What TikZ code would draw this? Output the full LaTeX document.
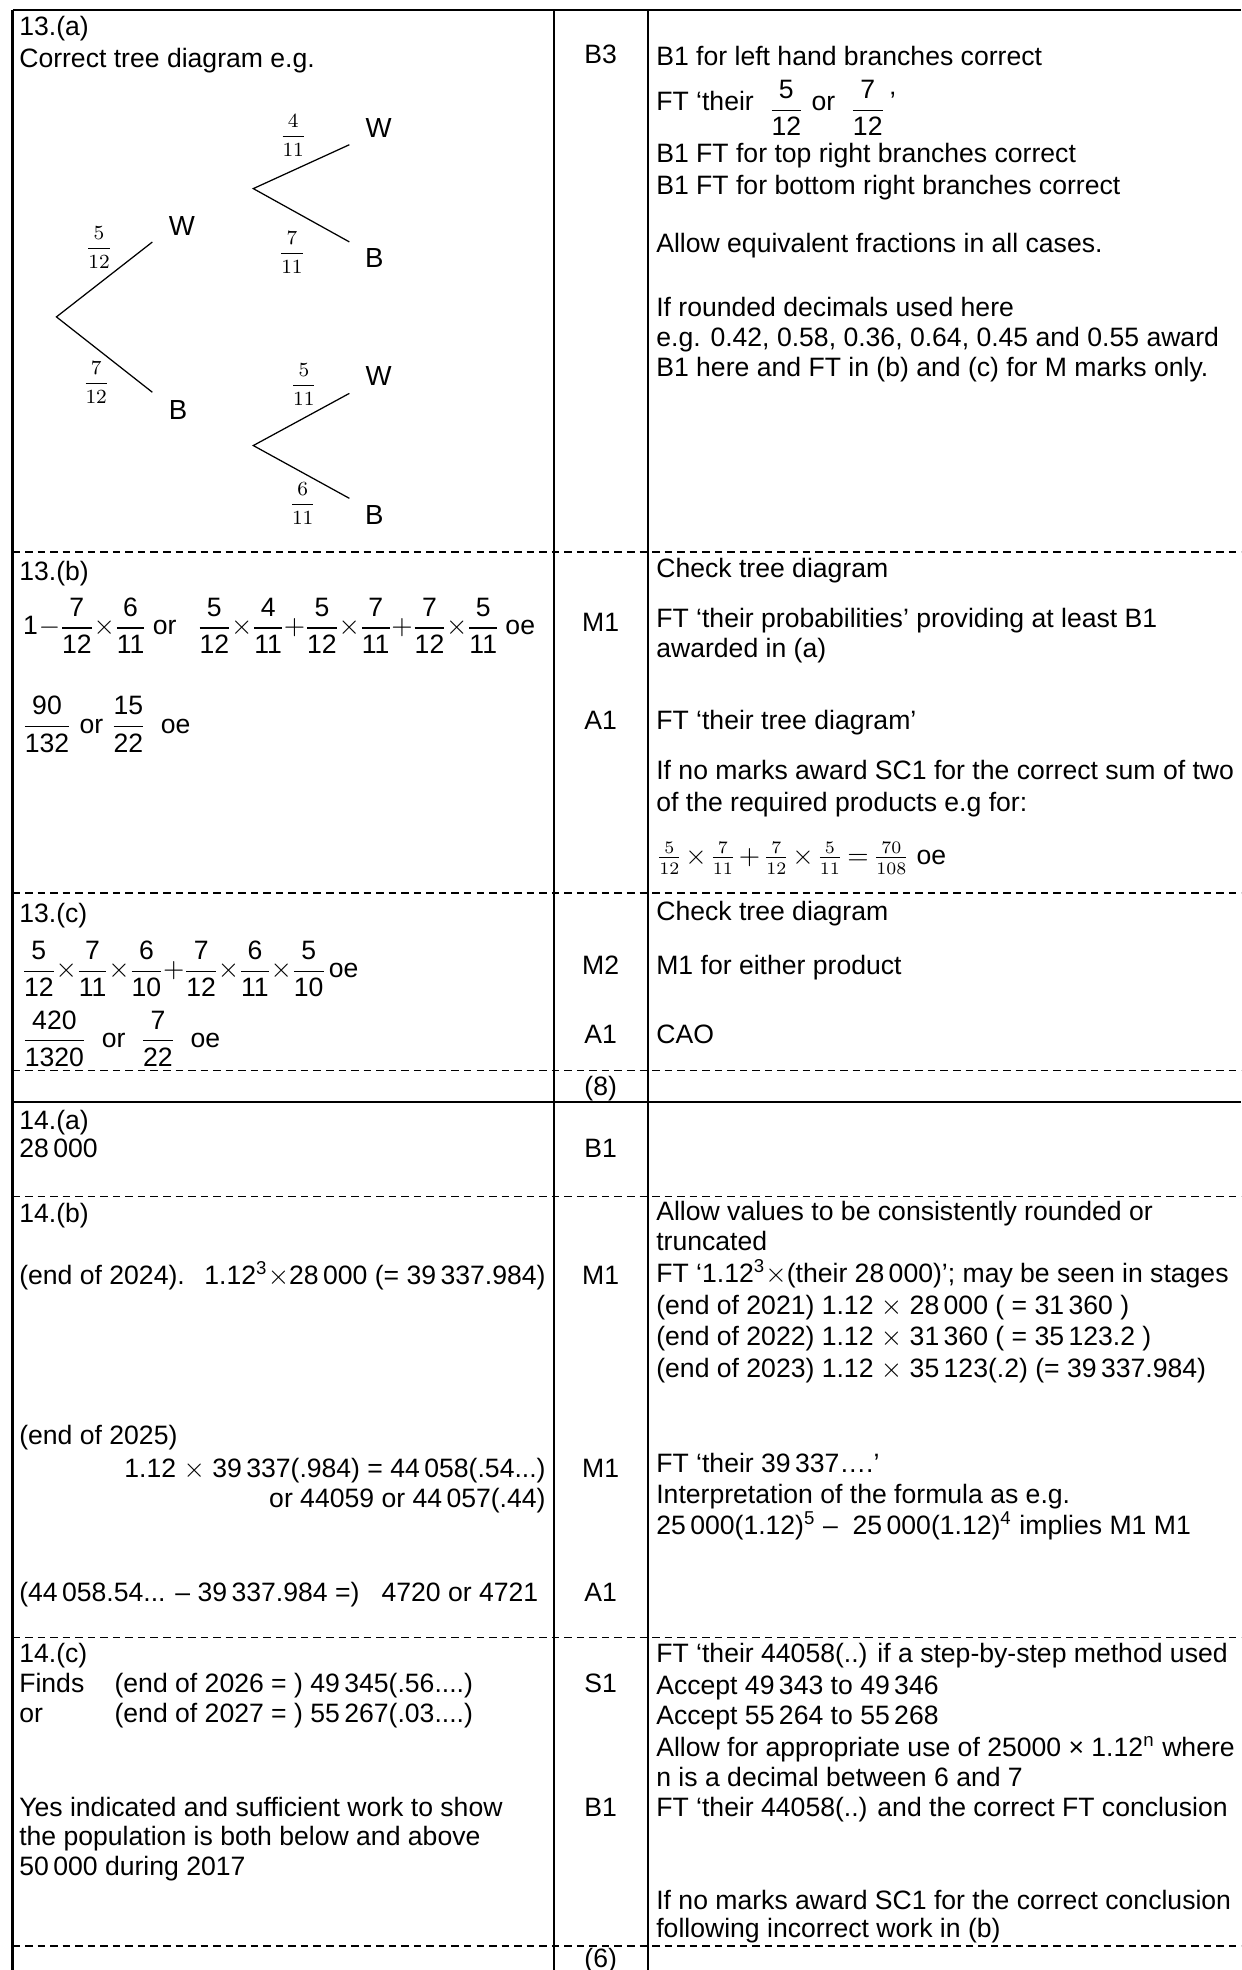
\documentclass[tikz,border=0pt]{standalone}
\usepackage{amsmath}
\usepackage[no-math]{fontspec}
\setmainfont{Liberation Sans}

\newcommand\fr[2]{\dfrac{\mbox{#1}}{\mbox{#2}}}
\newcommand\bodyfont{\fontsize{10.6}{12.4}\selectfont}
\newcommand\tightmath{\medmuskip=0.6mu\nulldelimiterspace=0.4pt}

\tikzset{
  txt/.style={anchor=base west, inner sep=0pt, font=\bodyfont},
  rtxt/.style={anchor=base east, inner sep=0pt, font=\bodyfont},
  frm/.style={anchor=west, inner sep=0pt, font=\bodyfont},
  markcell/.style={anchor=base, inner sep=0pt, font=\bodyfont},
  prob/.style={inner sep=0pt, font=\fontsize{8.5}{10}\selectfont},
  leaf/.style={inner sep=0pt, font=\fontsize{11}{13}\selectfont},
  branch/.style={line width=0.5pt},
  tabrule/.style={line width=0.9pt},
  dline/.style={line width=0.6pt, dash pattern=on 3pt off 2pt},
}

\begin{document}
\begin{tikzpicture}[x=0.5pt,y=-0.5pt]
  \useasboundingbox (0,0) rectangle (990,1571);

  % table rules
  \draw[tabrule] (10,8) -- (990,8);
  \draw[tabrule] (10,8) -- (10,1571);
  \draw[tabrule] (442,8) -- (442,1571);
  \draw[tabrule] (517,8) -- (517,1571);
  \draw[tabrule] (10,879) -- (990,879);
  \foreach \yy in {440,712,853.5,954,1306,1552}
    \draw[dline] (10,\yy) -- (990,\yy);

  % 13 (a)
  \node[txt] (qa) at (15,28) {13.(a)};
  \node[txt] (qatxt) at (15,54) {Correct tree diagram e.g.};
  \node[markcell] (mqa) at (479,51) {B3};

  % tree diagram
  \coordinate (r) at (45,252.7);
  \coordinate (rW) at (121.5,193);
  \coordinate (rB) at (121.5,312.8);
  \coordinate (w) at (202,150.4);
  \coordinate (wW) at (278.6,115.4);
  \coordinate (wB) at (278.6,192.9);
  \coordinate (b) at (202,355.3);
  \coordinate (bW) at (278.6,313.7);
  \coordinate (bB) at (278.6,397.4);

  \draw[branch] (rW) -- (r) -- (rB);
  \draw[branch] (wW) -- (w) -- (wB);
  \draw[branch] (bW) -- (b) -- (bB);

  \node[leaf] (lW) at (145,180) {W};
  \node[leaf] (lB) at (142,327) {B};
  \node[leaf] (lWW) at (302,101.7) {W};
  \node[leaf] (lWB) at (298.5,206) {B};
  \node[leaf] (lBW) at (302,299.7) {W};
  \node[leaf] (lBB) at (298.5,410.8) {B};

  \node[prob] (pW) at (79,197) {$\dfrac{5}{12}$};
  \node[prob] (pB) at (76.7,304.7) {$\dfrac{7}{12}$};
  \node[prob] (pWW) at (233.8,108.3) {$\dfrac{4}{11}$};
  \node[prob] (pWB) at (232.8,201.6) {$\dfrac{7}{11}$};
  \node[prob] (pBW) at (242.3,307) {$\dfrac{5}{11}$};
  \node[prob] (pBB) at (241.4,401.7) {$\dfrac{6}{11}$};

  \node[txt] (ca1) at (523,52) {B1 for left hand branches correct};
  \node[txt] (ca2) at (523,88) {FT `their \ \raisebox{-2.65pt}{$\fr{5}{12}$} or \ \raisebox{-2.65pt}{$\fr{7}{12}$}\,'};
  \node[txt] (ca3) at (523,129.5) {B1 FT for top right branches correct};
  \node[txt] (ca4) at (523,155) {B1 FT for bottom right branches correct};
  \node[txt] (ca5) at (523,201) {Allow equivalent fractions in all cases.};
  \node[txt] (ca6) at (523,252) {If rounded decimals used here};
  \node[txt] (ca7) at (523,276) {e.g. 0.42, 0.58, 0.36, 0.64, 0.45 and 0.55 award};
  \node[txt] (ca8) at (523,300) {B1 here and FT in (b) and (c) for M marks only.};

  % 13 (b)
  \node[txt] (qb) at (15,462.8) {13.(b)};
  \node[frm] (qb1) at (18,499) {\tightmath$\displaystyle \mbox{1}-\fr{7}{12}\times\fr{6}{11}\mbox{ or \ \ }\fr{5}{12}\times\fr{4}{11}+\fr{5}{12}\times\fr{7}{11}+\fr{7}{12}\times\fr{5}{11}\mbox{ oe}$};
  \node[frm] (qb2) at (17,577.5) {$\displaystyle \fr{90}{132}\mbox{ or }\fr{15}{22}\mbox{ \ oe}$};
  \node[markcell] (mqb1) at (479,503.3) {M1};
  \node[markcell] (mqb2) at (479,581.7) {A1};

  \node[txt] (cb1) at (523,460.6) {Check tree diagram};
  \node[txt] (cb2) at (523,500.5) {FT `their probabilities' providing at least B1};
  \node[txt] (cb3) at (523,524.7) {awarded in (a)};
  \node[txt] (cb4) at (523,581.7) {FT `their tree diagram'};
  \node[txt] (cb5) at (523,621.6) {If no marks award SC1 for the correct sum of two};
  \node[txt] (cb6) at (523,647.2) {of the required products e.g for:};
  \node[frm] (cb7) at (523,684.4) {\medmuskip=2mu\thickmuskip=3mu$\frac{5}{12}\times\frac{7}{11}+\frac{7}{12}\times\frac{5}{11}=\frac{70}{108}$ oe};

  % 13 (c)
  \node[txt] (qc) at (15,735.5) {13.(c)};
  \node[frm] (qc1) at (18,772.7) {\tightmath$\displaystyle \fr{5}{12}\times\fr{7}{11}\times\fr{6}{10}+\fr{7}{12}\times\fr{6}{11}\times\fr{5}{10}\mbox{\,oe}$};
  \node[frm] (qc2) at (17,828.2) {$\displaystyle \fr{420}{1320}\mbox{ \ or \ }\fr{7}{22}\mbox{ \ oe}$};
  \node[markcell] (mqc1) at (479,776.8) {M2};
  \node[markcell] (mqc2) at (479,832.4) {A1};
  \node[markcell] (tot13) at (479,873.7) {(8)};

  \node[txt] (cc1) at (523,734) {Check tree diagram};
  \node[txt] (cc2) at (523,776.8) {M1 for either product};
  \node[txt] (cc3) at (523,832.4) {CAO};

  % 14 (a)
  \node[txt] (qd) at (15,900.5) {14.(a)};
  \node[txt] (qd1) at (15,923) {28\,000};
  \node[markcell] (mqd) at (479,923) {B1};

  % 14 (b)
  \node[txt] (qe) at (15,975) {14.(b)};
  \node[txt] (qe1) at (15,1024) {(end of 2024).};
  \node[rtxt] (qe2) at (435.5,1024) {1.12\textsuperscript{3}$\times$28\,000 (= 39\,337.984)};
  \node[txt] (qe3) at (15,1152) {(end of 2025)};
  \node[rtxt] (qe4) at (435.5,1178.5) {1.12 $\times$ 39\,337(.984) = 44\,058(.54...)};
  \node[rtxt] (qe5) at (435.5,1202.5) {or 44059 or 44\,057(.44)};
  \node[txt] (qe6) at (15,1276.8) {(44\,058.54... -- 39\,337.984 =) \ \ 4720 or 4721};
  \node[markcell] (mqe1) at (479,1024) {M1};
  \node[markcell] (mqe2) at (479,1178.5) {M1};
  \node[markcell] (mqe3) at (479,1276.8) {A1};

  \node[txt] (ce1) at (523,973.6) {Allow values to be consistently rounded or};
  \node[txt] (ce2) at (523,997.5) {truncated};
  \node[txt] (ce3) at (523,1022.7) {FT `1.12\textsuperscript{3}$\times$(their 28\,000)'; may be seen in stages};
  \node[txt] (ce4) at (523,1048) {(end of 2021) 1.12 $\times$ 28\,000 ( = 31\,360 )};
  \node[txt] (ce5) at (523,1073) {(end of 2022) 1.12 $\times$ 31\,360 ( = 35\,123.2 )};
  \node[txt] (ce6) at (523,1098.3) {(end of 2023) 1.12 $\times$ 35\,123(.2) (= 39\,337.984)};
  \node[txt] (ce7) at (523,1174) {FT `their 39\,337\ldots.'};
  \node[txt] (ce8) at (523,1199.3) {Interpretation of the formula as e.g.};
  \node[txt] (ce9) at (523,1223.3) {25\,000(1.12)\textsuperscript{5} -- \ 25\,000(1.12)\textsuperscript{4} implies M1 M1};

  % 14 (c)
  \node[txt] (qf) at (15,1326) {14.(c)};
  \node[txt] (qf1) at (15,1350) {Finds};
  \node[txt] (qf2) at (91,1350) {(end of 2026 = ) 49\,345(.56....)};
  \node[txt] (qf3) at (15,1374) {or};
  \node[txt] (qf4) at (91,1374) {(end of 2027 = ) 55\,267(.03....)};
  \node[txt] (qf5) at (15,1448.3) {Yes indicated and sufficient work to show};
  \node[txt] (qf6) at (15,1472) {the population is both below and above};
  \node[txt] (qf7) at (15,1496) {50\,000 during 2017};
  \node[markcell] (mqf1) at (479,1350) {S1};
  \node[markcell] (mqf2) at (479,1448.3) {B1};
  \node[markcell] (tot14) at (479,1569) {(6)};

  \node[txt] (cf1) at (523,1326) {FT `their 44058(..) if a step-by-step method used};
  \node[txt] (cf2) at (523,1351.2) {Accept 49\,343 to 49\,346};
  \node[txt] (cf3) at (523,1375) {Accept 55\,264 to 55\,268};
  \node[txt] (cf4) at (523,1400.4) {Allow for appropriate use of 25000 × 1.12\textsuperscript{n} where};
  \node[txt] (cf5) at (523,1424.3) {n is a decimal between 6 and 7};
  \node[txt] (cf6) at (523,1448.3) {FT `their 44058(..) and the correct FT conclusion};
  \node[txt] (cf7) at (523,1522.7) {If no marks award SC1 for the correct conclusion};
  \node[txt] (cf8) at (523,1545.3) {following incorrect work in (b)};
\end{tikzpicture}
\end{document}
